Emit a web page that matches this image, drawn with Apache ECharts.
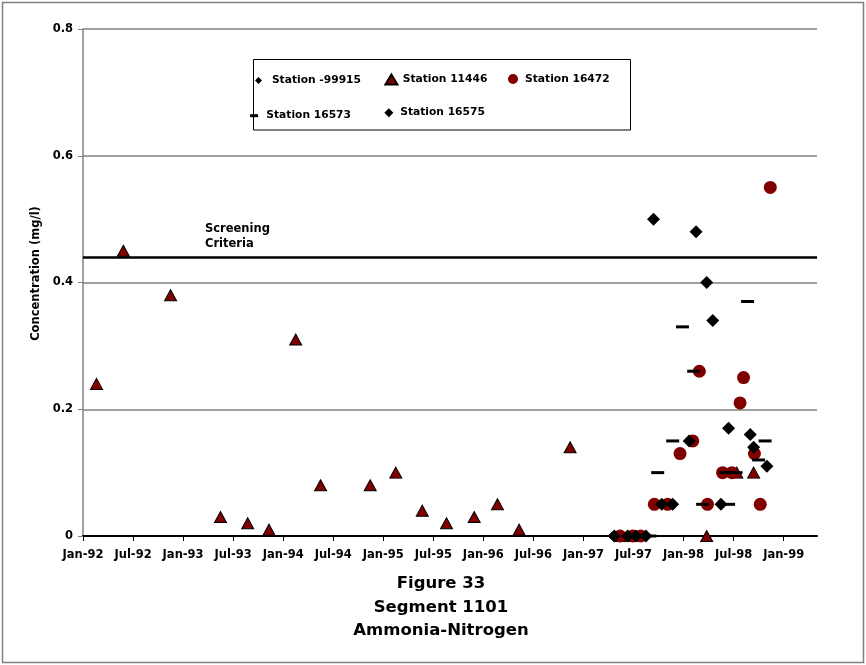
<!DOCTYPE html>
<html>
<head>
<meta charset="utf-8">
<script src="https://cdn.jsdelivr.net/npm/echarts@6/dist/echarts.min.js"></script>
<style>
  html, body { margin: 0; padding: 0; background: #fff; }
  #chart { width: 866px; height: 665px; }
</style>
</head>
<body>
<div id="chart"></div>
<script>
// Sample dates (YYYY-MM-DD) and ammonia-nitrogen concentrations (mg/l) per station
const st99915Dates = ['1997-04-13'];
const st99915Vals  = [0];

const st11446Dates = ['1992-02-19','1992-05-27','1992-11-16','1993-05-16','1993-08-24','1993-11-10',
                      '1994-02-15','1994-05-16','1994-11-14','1995-02-15','1995-05-22','1995-08-19',
                      '1995-11-28','1996-02-21','1996-05-10','1996-11-13','1997-05-13','1997-07-01',
                      '1998-03-25','1998-07-13','1998-09-13'];
const st11446Vals  = [0.24,0.45,0.38,0.03,0.02,0.01,
                      0.31,0.08,0.08,0.10,0.04,0.02,
                      0.03,0.05,0.01,0.14,0,0,
                      0,0.10,0.10];

const st16472Dates = ['1997-05-13','1997-06-28','1997-07-28','1997-09-16','1997-11-04','1997-12-19',
                      '1998-02-04','1998-02-26','1998-03-28','1998-05-22','1998-06-25','1998-07-25',
                      '1998-08-07','1998-09-16','1998-10-07','1998-11-13'];
const st16472Vals  = [0,0,0,0.05,0.05,0.13,
                      0.15,0.26,0.05,0.10,0.10,0.21,
                      0.25,0.13,0.05,0.55];

const st16573Dates = ['1997-08-31','1997-09-28','1997-11-22','1997-12-28','1998-02-07','1998-03-10',
                      '1998-06-01','1998-06-13','1998-07-10','1998-08-22','1998-10-01','1998-10-25'];
const st16573Vals  = [0,0.10,0.15,0.33,0.26,0.05,
                      0.10,0.05,0.10,0.37,0.12,0.15];

const st16575Dates = ['1997-04-22','1997-06-10','1997-07-10','1997-08-16','1997-09-13','1997-10-13',
                      '1997-11-22','1998-01-22','1998-02-15','1998-03-25','1998-04-16','1998-05-16',
                      '1998-06-13','1998-09-01','1998-09-13','1998-11-01'];
const st16575Vals  = [0,0,0,0,0.50,0.05,
                      0.05,0.15,0.48,0.40,0.34,0.05,
                      0.17,0.16,0.14,0.11];

const screeningCriteria = 0.44;

// Date axis tick labels, one every six months starting Jan-92
const xTickLabels = ['Jan-92','Jul-92','Jan-93','Jul-93','Jan-94','Jul-94','Jan-95','Jul-95',
                     'Jan-96','Jul-96','Jan-97','Jul-97','Jan-98','Jul-98','Jan-99'];
const yTickLabels = ['0','0.2','0.4','0.6','0.8'];

const FONT = 'DejaVu Sans';
const BASE_YEAR = 1992;

// Months elapsed since 1 Jan 1992 (fractional within the month)
function toMonths(s) {
  const [y, m, d] = s.split('-').map(Number);
  const dim = new Date(Date.UTC(y, m, 0)).getUTCDate();
  return (y - BASE_YEAR) * 12 + (m - 1) + (d - 1) / dim;
}
function pairs(dates, vals) {
  return dates.map((d, i) => [toMonths(d), vals[i]]);
}

const tickMonths = xTickLabels.map((_, i) => i * 6);

const ICON_DIAMOND  = 'path://M5,0L10,5L5,10L0,5Z';
const ICON_TRIANGLE = 'path://M6,0L12,10L0,10Z';
const ICON_CIRCLE   = 'path://M5,0A5,5,0,1,1,5,10A5,5,0,1,1,5,0Z';
const ICON_DASH     = 'path://M0,0H8V3H0Z';

const legendText = { fontFamily: FONT, fontWeight: 'bold', fontSize: 10.7, color: '#000' };
function legendItem(name, icon, left, rowY, w, h) {
  return {
    data: [name], icon: icon, left: left, top: rowY - h / 2,
    itemWidth: w, itemHeight: h, padding: 0, itemGap: 0,
    selectedMode: false, textStyle: legendText
  };
}

const chart = echarts.init(document.getElementById('chart'), null, { renderer: 'canvas' });

chart.setOption({
  backgroundColor: '#ffffff',
  animation: false,
  grid: { left: 83, right: 49, top: 29, bottom: 129, containLabel: false },
  title: {
    text: 'Figure 33\nSegment 1101\nAmmonia-Nitrogen',
    left: 436, top: 567, textAlign: 'center',
    textStyle: { fontFamily: FONT, fontWeight: 'bold', fontSize: 16.5, lineHeight: 23.5, color: '#000' }
  },
  legend: [
    legendItem('Station -99915', ICON_DIAMOND, 255, 78.5, 16.8, 7),
    legendItem('Station 11446', ICON_TRIANGLE, 384.4, 78.5, 12.6, 10),
    legendItem('Station 16472', ICON_CIRCLE, 508, 78.5, 14, 10),
    legendItem('Station 16573', ICON_DASH, 250.1, 111.7, 14.4, 3),
    legendItem('Station 16575', ICON_DIAMOND, 384.4, 111.7, 12.6, 9)
  ],
  graphic: [
    { type: 'rect', shape: { x: 2.5, y: 2.5, width: 861, height: 660 },
      style: { fill: 'none', stroke: '#808080', lineWidth: 1.5 }, silent: true, z: -1 },
    { type: 'rect', shape: { x: 253.5, y: 59.5, width: 377, height: 70.5 },
      style: { fill: 'none', stroke: '#000', lineWidth: 1 }, silent: true }
  ],
  xAxis: {
    type: 'value', min: 0, max: 88, interval: 6,
    axisLine: { show: true, lineStyle: { color: '#000', width: 2 } },
    axisTick: { show: true, length: 5, customValues: tickMonths, lineStyle: { color: '#000', width: 1 } },
    axisLabel: {
      customValues: tickMonths, margin: 13,
      formatter: v => xTickLabels[Math.round(v / 6)] || '',
      fontFamily: FONT, fontWeight: 'bold', fontSize: 11.5, color: '#000'
    },
    splitLine: { show: false }
  },
  yAxis: {
    type: 'value', min: 0, max: 0.8, interval: 0.2,
    name: 'Concentration (mg/l)', nameLocation: 'middle', nameGap: 38,
    nameTextStyle: { fontFamily: FONT, fontWeight: 'bold', fontSize: 11.5, color: '#000', padding: [0, 0, 0, 18] },
    axisLine: { show: true, lineStyle: { color: '#808080', width: 1.5 } },
    axisTick: { show: true, length: 5, lineStyle: { color: '#808080', width: 1 } },
    axisLabel: {
      margin: 10,
      formatter: v => yTickLabels[Math.round(v / 0.2)],
      fontFamily: FONT, fontWeight: 'bold', fontSize: 11.5, color: '#000'
    },
    splitLine: { show: true, lineStyle: { color: '#808080', width: 1.5 } }
  },
  series: [
    {
      name: 'Station -99915', type: 'scatter', data: pairs(st99915Dates, st99915Vals),
      symbol: 'diamond', symbolSize: 8, itemStyle: { color: '#000', opacity: 1 }
    },
    {
      name: 'Station 11446', type: 'scatter', data: pairs(st11446Dates, st11446Vals),
      symbol: 'triangle', symbolSize: [12, 11],
      itemStyle: { color: '#800000', borderColor: '#000', borderWidth: 1, opacity: 1 },
      markLine: {
        silent: true, symbol: ['none', 'none'], animation: false,
        lineStyle: { color: '#000', width: 2.5, type: 'solid' },
        label: {
          show: true, position: 'insideStartTop', distance: [122, 6],
          formatter: 'Screening\nCriteria', align: 'left',
          fontFamily: FONT, fontWeight: 'bold', fontSize: 11.5, lineHeight: 15, color: '#000'
        },
        data: [{ yAxis: screeningCriteria }]
      }
    },
    {
      name: 'Station 16472', type: 'scatter', data: pairs(st16472Dates, st16472Vals),
      symbol: 'circle', symbolSize: 13, itemStyle: { color: '#800000', opacity: 1 }
    },
    {
      name: 'Station 16573', type: 'scatter', data: pairs(st16573Dates, st16573Vals),
      symbol: 'rect', symbolSize: [13, 3], itemStyle: { color: '#000', opacity: 1 }
    },
    {
      name: 'Station 16575', type: 'scatter', data: pairs(st16575Dates, st16575Vals),
      symbol: 'diamond', symbolSize: 13, itemStyle: { color: '#000', opacity: 1 }
    }
  ]
});
</script>
</body>
</html>
